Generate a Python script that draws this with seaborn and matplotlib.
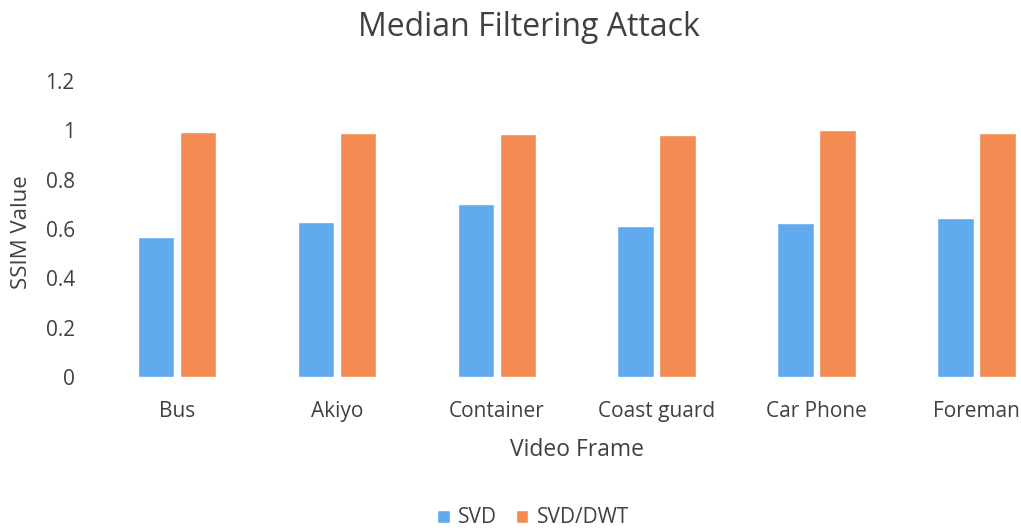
import numpy as np
import pandas as pd
import matplotlib
matplotlib.use('Agg')
import matplotlib.pyplot as plt
import seaborn as sns

# 데이터
frames = ['Bus', 'Akiyo', 'Container', 'Coast guard', 'Car Phone', 'Foreman']
svd = [0.567, 0.629, 0.702, 0.612, 0.623, 0.644]
svd_dwt = [0.992, 0.988, 0.984, 0.982, 0.999, 0.988]
y_ticks = [0, 0.2, 0.4, 0.6, 0.8, 1, 1.2]
y_tick_labels = ['0', '0.2', '0.4', '0.6', '0.8', '1', '1.2']

df = pd.DataFrame({'Video Frame': frames * 2,
                   'SSIM Value': svd + svd_dwt,
                   'method': ['SVD'] * len(frames) + ['SVD/DWT'] * len(frames)})

sns.set_style('white')
plt.rcParams['font.family'] = ['Open Sans', 'DejaVu Sans']
txt = '#404040'

fig = plt.figure(figsize=(10.21, 5.28), dpi=100)
ax = fig.add_axes([0.095, 0.286, 0.940, 0.561])

palette = {'SVD': '#62AAEE', 'SVD/DWT': '#F48B52'}
sns.barplot(data=df, x='Video Frame', y='SSIM Value', hue='method',
            palette=palette, width=0.525, gap=0.125, ax=ax, saturation=1)

ax.set_ylim(0, 1.2)
ax.set_yticks(y_ticks)
ax.set_yticklabels(y_tick_labels)
ax.tick_params(axis='both', length=0, labelsize=15, colors=txt)
ax.tick_params(axis='x', pad=17)
ax.tick_params(axis='y', pad=16)
for s in ax.spines.values():
    s.set_visible(False)

ax.set_xlabel('Video Frame', fontsize=16.5, color=txt)
ax.xaxis.set_label_coords(0.5, -0.205)
ax.set_ylabel('SSIM Value', fontsize=16, color=txt, va='center')
ax.yaxis.set_label_coords(-0.079, 0.49)
fig.text(0.518, 0.947, 'Median Filtering Attack', fontsize=23, color=txt,
         ha='center', va='center')

ax.get_legend().remove()
handles, labels = ax.get_legend_handles_labels()
leg = fig.legend(handles, labels, loc='center', bbox_to_anchor=(0.522, 0.019), ncol=2,
                 frameon=False, fontsize=15, handlelength=0.6, handleheight=0.6,
                 columnspacing=0.9, handletextpad=0.4)
for t in leg.get_texts():
    t.set_color(txt)

plt.savefig('out.png', dpi=100)
